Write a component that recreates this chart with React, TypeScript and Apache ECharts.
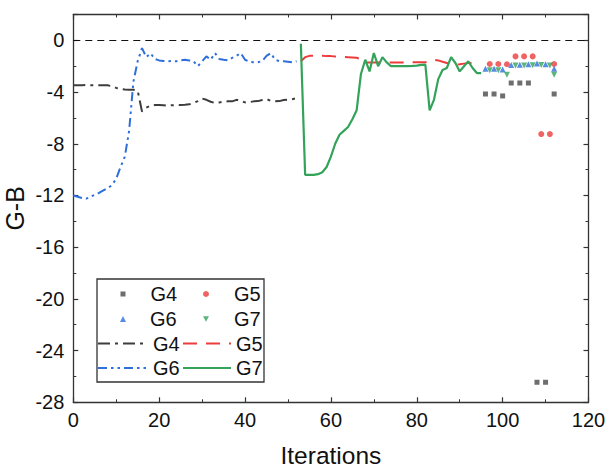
import React, { useEffect, useRef } from "react";
import * as echarts from "echarts";

// ---------- data ----------
const xTicks = [0, 20, 40, 60, 80, 100, 120];
const yTicks = [-28, -24, -20, -16, -12, -8, -4, 0];

// Lines: start iteration + one value per iteration
const g4LineStart = 0;
const g4LineValues = [
  -3.48, -3.48, -3.47, -3.46, -3.47, -3.48, -3.48, -3.47, -3.48, -3.55,
  -3.68, -3.75, -3.8, -3.82, -3.82, -3.9, -5.5, -5.2, -5.05, -5.0,
  -5.0, -5.02, -5.05, -5.02, -5.0, -5.0, -4.98, -4.95, -4.85, -4.7,
  -4.5, -4.6, -4.75, -4.85, -4.8, -4.75, -4.72, -4.72, -4.6, -4.7,
  -4.8, -4.78, -4.72, -4.7, -4.62, -4.55, -4.68, -4.72, -4.7, -4.62,
  -4.6, -4.55, -4.48,
];

const g6LineStart = 0;
const g6LineValues = [
  -12.0, -12.1, -12.2, -12.25, -12.1, -11.95, -11.8, -11.6, -11.45, -11.2,
  -10.7, -9.8, -9.0, -7.0, -3.2, -1.6, -0.6, -1.3, -1.0, -1.45,
  -1.55, -1.6, -1.62, -1.6, -1.62, -1.55, -1.5, -1.55, -1.62, -2.0,
  -1.62, -1.24, -1.5, -0.98, -1.44, -1.5, -1.55, -1.36, -1.2, -0.98,
  -1.5, -1.65, -1.7, -1.7, -1.6, -1.2, -0.98, -1.5, -1.6, -1.62,
  -1.65, -1.7, -1.62,
];

const g5LineStart = 53;
const g5LineValues = [
  -1.62, -1.3, -1.2, -1.2, -1.2, -1.2, -1.22, -1.22, -1.25, -1.25,
  -1.28, -1.3, -1.32, -1.35, -1.45, -1.7, -1.72, -1.72, -1.72, -1.72,
  -1.72, -1.72, -1.72, -1.72, -1.72, -1.72, -1.7, -1.7, -1.7, -1.7,
  -1.6, -1.5, -1.55, -1.65, -1.75, -1.85, -1.88, -1.85, -1.8, -1.75,
  -1.75,
];

const g7LineStart = 53;
const g7LineValues = [
  -0.26, -10.4, -10.4, -10.4, -10.35, -10.2, -9.8, -9.0, -8.0, -7.3,
  -7.0, -6.7, -6.1, -5.4, -2.6, -1.5, -2.4, -0.98, -2.0, -1.3,
  -1.7, -2.0, -2.0, -2.0, -2.0, -2.0, -1.98, -1.95, -1.9, -1.88,
  -5.42, -4.6, -3.0, -2.3, -2.14, -1.3, -1.75, -2.4, -2.0, -1.62,
  -2.14, -2.53, -2.53,
];

// Scatter points
const g4PtsX = [96, 98, 100, 102, 104, 106, 108, 110, 112];
const g4PtsY = [-4.15, -4.15, -4.3, -3.3, -3.3, -3.3, -26.45, -26.45, -4.15];
const g5PtsX = [97, 99, 101, 103, 105, 107, 109, 111, 112];
const g5PtsY = [-1.83, -1.83, -1.85, -1.24, -1.24, -1.24, -7.25, -7.25, -1.83];
const g6PtsX = [96, 98, 100, 102, 104, 106, 108, 110, 112];
const g6PtsY = [-2.2, -2.2, -2.25, -1.9, -1.88, -1.85, -1.8, -1.85, -2.2];
const g7PtsX = [97, 99, 101, 103, 105, 107, 109, 111, 112];
const g7PtsY = [-2.32, -2.32, -2.66, -1.95, -1.95, -1.92, -1.9, -1.95, -2.66];

// ---------- styling ----------
const FONT = "'Liberation Sans', Arial, sans-serif";
const C4 = "#3d3d3d";
const C5 = "#ec3c3c";
const C6 = "#2d6fdb";
const C7 = "#33a35a";
const AX = "#333333";

const lineData = (start: number, vals: number[]) => vals.map((v, i) => [start + i, v]);
const ptsData = (xs: number[], ys: number[]) => xs.map((x, i) => [x, ys[i]]);

export default function App() {
  const ref = useRef<HTMLDivElement>(null);

  useEffect(() => {
    if (!ref.current) return;
    const chart = echarts.init(ref.current, undefined, { renderer: "svg" });

    const axisCommon = {
      type: "value" as const,
      axisLine: { show: true, onZero: false, lineStyle: { color: AX, width: 1.3 } },
      axisTick: { show: true, inside: true, length: 5, lineStyle: { color: AX, width: 1.2 } },
      minorTick: { show: true, splitNumber: 2, length: 3, lineStyle: { color: AX, width: 1 } },
      splitLine: { show: false },
    };
    const labelStyle = { fontSize: 20, color: "#111", fontFamily: FONT };

    const legendBase = (
      item: any,
      left: number,
      top: number,
      iw: number,
      ih: number,
      padLeft: number,
      hideSymbol: boolean
    ) => ({
      data: [item],
      left,
      top,
      orient: "horizontal" as const,
      padding: 0,
      itemWidth: iw,
      itemHeight: ih,
      ...(hideSymbol ? { itemStyle: { opacity: 0 } } : {}),
      formatter: (n: string) => n.split(" ")[0],
      textStyle: { fontSize: 20, color: "#111", fontFamily: FONT, padding: [0, 0, 0, padLeft] },
    });

    const rows = [294, 319, 343.5, 368];
    const lt = (cy: number) => cy - 10;

    chart.setOption({
      animation: false,
      backgroundColor: "#fff",
      grid: { left: 73.3, right: 17.5, top: 14.5, bottom: 65.7, outerBoundsMode: "none", containLabel: false },
      xAxis: [
        {
          ...axisCommon,
          min: xTicks[0],
          max: xTicks[xTicks.length - 1],
          interval: 20,
          position: "bottom",
          axisLabel: { ...labelStyle, margin: 8 },
          name: "Iterations",
          nameLocation: "middle",
          nameGap: 41,
          nameMoveOverlap: false,
          nameTextStyle: { fontSize: 24.5, color: "#111", fontFamily: FONT },
        },
        {
          ...axisCommon,
          min: xTicks[0],
          max: xTicks[xTicks.length - 1],
          interval: 20,
          position: "top",
          axisLabel: { show: false },
        },
      ],
      yAxis: [
        {
          ...axisCommon,
          min: yTicks[0],
          max: 2,
          interval: 4,
          position: "left",
          axisLabel: { ...labelStyle, margin: 9, showMaxLabel: false },
          name: "G-B",
          nameLocation: "middle",
          nameGap: 46,
          nameRotate: 90,
          nameMoveOverlap: false,
          nameTextStyle: { fontSize: 25, color: "#111", fontFamily: FONT },
        },
        {
          ...axisCommon,
          min: yTicks[0],
          max: 2,
          interval: 4,
          position: "right",
          axisLabel: { show: false },
        },
      ],
      legend: [
        legendBase("G4", 120.5, lt(rows[0]), 5, 5, 20, false),
        legendBase("G5", 203, lt(rows[0]), 6, 6, 20, false),
        legendBase("G6", 120, lt(rows[1]), 6, 6, 19, false),
        legendBase({ name: "G7", icon: "path://M0,0L10,0L5,9Z" }, 203, lt(rows[1]), 6, 6, 20, false),
        legendBase("G4 line", 97, lt(rows[2]), 50, 4, 0, true),
        legendBase("G5 line", 182, lt(rows[2]), 48, 4, 0, true),
        legendBase("G6 line", 97, lt(rows[3]), 50, 4, 0, true),
        legendBase("G7 line", 182, lt(rows[3]), 48, 4, 0, true),
      ],
      graphic: [
        {
          type: "rect",
          z: 1,
          shape: { x: 97, y: 279, width: 167, height: 103 },
          style: { fill: "#fff", stroke: AX, lineWidth: 1.3 },
        },
      ],
      series: [
        {
          name: "G4 line",
          type: "line",
          data: lineData(g4LineStart, g4LineValues),
          symbol: "none",
          color: C4,
          lineStyle: { color: C4, width: 2, type: [12, 5, 3, 5] },
          markLine: {
            silent: true,
            symbol: ["none", "none"],
            label: { show: false },
            lineStyle: { color: "#111", width: 1.2, type: [7, 5] },
            data: [{ yAxis: 0 }],
          },
        },
        {
          name: "G6 line",
          type: "line",
          data: lineData(g6LineStart, g6LineValues),
          symbol: "none",
          color: C6,
          lineStyle: { color: C6, width: 2, type: [9, 4, 2.5, 4, 2.5, 4] },
        },
        {
          name: "G5 line",
          type: "line",
          data: lineData(g5LineStart, g5LineValues),
          symbol: "none",
          color: C5,
          lineStyle: { color: C5, width: 2, type: [14, 9] },
        },
        {
          name: "G7 line",
          type: "line",
          data: lineData(g7LineStart, g7LineValues),
          symbol: "none",
          color: C7,
          lineStyle: { color: C7, width: 2.2, type: "solid" },
        },
        {
          name: "G4",
          type: "scatter",
          data: ptsData(g4PtsX, g4PtsY),
          symbol: "rect",
          symbolSize: 5,
          itemStyle: { color: "#4a4a4a" },
        },
        {
          name: "G5",
          type: "scatter",
          data: ptsData(g5PtsX, g5PtsY),
          symbol: "circle",
          symbolSize: 6,
          itemStyle: { color: C5 },
        },
        {
          name: "G6",
          type: "scatter",
          data: ptsData(g6PtsX, g6PtsY),
          symbol: "triangle",
          symbolSize: 6,
          itemStyle: { color: C6 },
        },
        {
          name: "G7",
          type: "scatter",
          data: ptsData(g7PtsX, g7PtsY),
          symbol: "triangle",
          symbolRotate: 180,
          symbolSize: 6,
          itemStyle: { color: C7 },
        },
      ],
    });

    return () => chart.dispose();
  }, []);

  return <div ref={ref} style={{ width: 606, height: 468, position: "absolute", left: 0, top: 0 }} />;
}
